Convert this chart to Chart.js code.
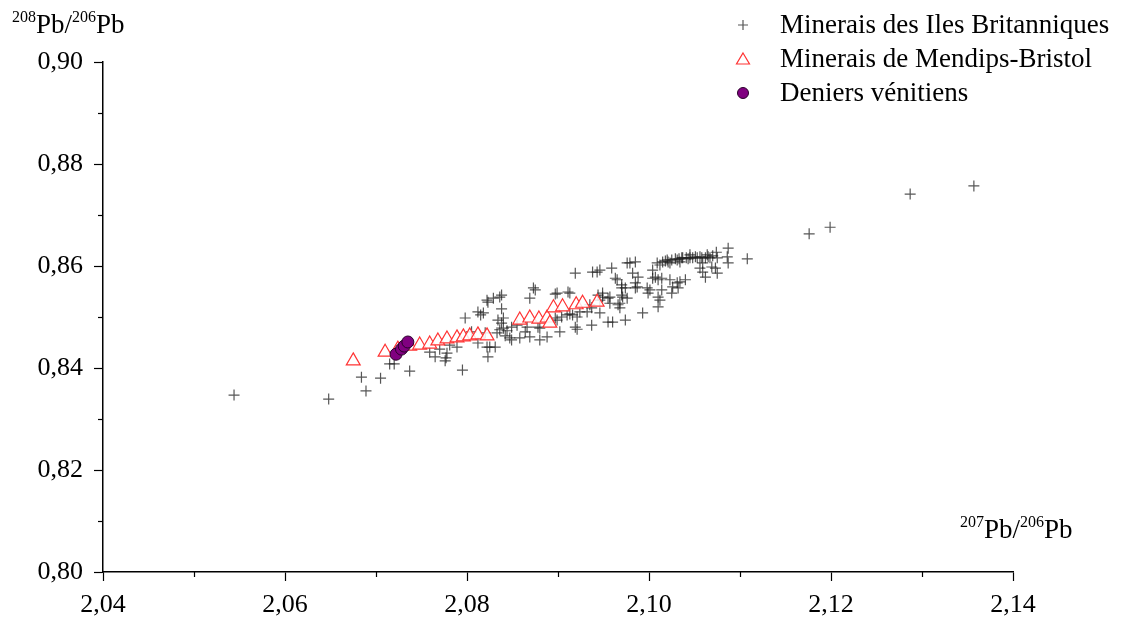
<!DOCTYPE html>
<html>
<head>
<meta charset="utf-8">
<script src="https://cdn.jsdelivr.net/npm/chart.js@4.4.1/dist/chart.umd.min.js"></script>
<style>
  html, body { margin: 0; padding: 0; background: #fff; }
  #wrap { width: 1121px; height: 618px; }
</style>
</head>
<body>
<div id="wrap"><canvas id="pbChart" width="1121" height="618"></canvas></div>
<script>
// Minerais des Iles Britanniques (207Pb/206Pb, 208Pb/206Pb)
const britX = [
  2.0544, 2.0648, 2.0684, 2.0689, 2.0705, 2.0715, 2.0720, 2.0737, 2.0765, 2.0770,
  2.0777, 2.0778, 2.0776, 2.0781, 2.0795, 2.0789, 2.0798, 2.0812, 2.0815, 2.0818,
  2.0812, 2.0820, 2.0823, 2.0822, 2.0919, 2.0938, 2.0946, 2.0979, 2.0982, 2.0959,
  2.0963, 2.0970, 2.0985, 2.0875, 2.0899, 2.0911, 2.0829, 2.0822, 2.0836, 2.0869,
  2.0910, 2.0916, 2.0932, 2.0937, 2.0946, 2.0957, 2.0968, 2.0960, 2.0974, 2.0937,
  2.0919, 2.0899, 2.0880, 2.0864, 2.0869, 2.0858, 2.0847, 2.0836, 2.0838, 2.0840,
  2.0825, 2.0823, 2.0833, 2.0849, 2.0873, 2.0897, 2.0913, 2.0838, 2.0838, 2.0834,
  2.0840, 2.0844, 2.0855, 2.0866, 2.0878, 2.0897, 2.0904, 2.0913, 2.0921, 2.0924,
  2.0935, 2.0944, 2.0949, 2.0955, 2.0921, 2.0902, 2.0888, 2.0880, 2.0849, 2.0831,
  2.0955, 2.0946, 2.0943, 2.0985, 2.0976, 2.0965, 2.0949, 2.0970, 2.0971, 2.0957,
  2.0966, 2.0988, 2.0987, 2.0998, 2.1001, 2.1004, 2.1007, 2.1012, 2.1014, 2.1010,
  2.1010, 2.0993, 2.1021, 2.1023, 2.1026, 2.1025, 2.1032, 2.1034, 2.1040, 2.1031,
  2.1037, 2.1045, 2.1053, 2.1064, 2.1059, 2.1062, 2.1069, 2.1073, 2.1075, 2.1056,
  2.1087, 2.1108, 2.1086, 2.1087, 2.1075, 2.1065, 2.1059, 2.1045, 2.1023, 2.1009,
  2.1034, 2.1036, 2.1004, 2.1010, 2.1031, 2.1014, 2.0999, 2.0985, 2.0974, 2.0970,
  2.0976, 2.1012, 2.0968, 2.1176, 2.1199, 2.1287, 2.1357, 2.1015, 2.1018, 2.1020,
  2.1025, 2.1029, 2.1033, 2.1041, 2.1043, 2.1048, 2.1051, 2.1056, 2.1058, 2.1062,
  2.1067, 2.1070, 2.1074, 2.0759, 2.0805, 2.0842
];
const britY = [
  0.8347, 0.8339, 0.8382, 0.8355, 0.8380, 0.8408, 0.8408, 0.8394, 0.8422, 0.8437,
  0.8420, 0.8429, 0.8414, 0.8445, 0.8396, 0.8441, 0.8498, 0.8510, 0.8504, 0.8508,
  0.8449, 0.8469, 0.8529, 0.8441, 0.8586, 0.8588, 0.8592, 0.8606, 0.8586, 0.8596,
  0.8576, 0.8563, 0.8567, 0.8553, 0.8547, 0.8549, 0.8537, 0.8533, 0.8539, 0.8537,
  0.8504, 0.8504, 0.8510, 0.8518, 0.8533, 0.8539, 0.8527, 0.8490, 0.8494, 0.8484,
  0.8480, 0.8494, 0.8478, 0.8471, 0.8461, 0.8459, 0.8459, 0.8475, 0.8488, 0.8498,
  0.8441, 0.8422, 0.8469, 0.8480, 0.8557, 0.8545, 0.8547, 0.8543, 0.8516, 0.8494,
  0.8478, 0.8473, 0.8484, 0.8480, 0.8480, 0.8498, 0.8500, 0.8506, 0.8500, 0.8510,
  0.8524, 0.8543, 0.8547, 0.8537, 0.8476, 0.8471, 0.8461, 0.8455, 0.8455, 0.8441,
  0.8490, 0.8508, 0.8588, 0.8608, 0.8606, 0.8573, 0.8539, 0.8557, 0.8539, 0.8527,
  0.8524, 0.8578, 0.8559, 0.8557, 0.8553, 0.8592, 0.8578, 0.8602, 0.8576, 0.8539,
  0.8520, 0.8508, 0.8608, 0.8573, 0.8559, 0.8547, 0.8557, 0.8569, 0.8573, 0.8612,
  0.8616, 0.8616, 0.8616, 0.8622, 0.8588, 0.8578, 0.8598, 0.8596, 0.8616, 0.8596,
  0.8635, 0.8614, 0.8618, 0.8606, 0.8586, 0.8618, 0.8606, 0.8622, 0.8606, 0.8606,
  0.8608, 0.8616, 0.8576, 0.8573, 0.8567, 0.8553, 0.8547, 0.8557, 0.8557, 0.8543,
  0.8537, 0.8533, 0.8518, 0.8663, 0.8676, 0.8741, 0.8757, 0.8608, 0.8610, 0.8612,
  0.8612, 0.8614, 0.8614, 0.8616, 0.8614, 0.8616, 0.8618, 0.8618, 0.8616, 0.8616,
  0.8616, 0.8620, 0.8627, 0.8431, 0.8471, 0.8463
];

// Minerais de Mendips-Bristol
const mendipX = [
  2.0675, 2.0710, 2.0724, 2.0737, 2.0748, 2.0759, 2.0768, 2.0778, 2.0789, 2.0796,
  2.0803, 2.0812, 2.0822, 2.0858, 2.0869, 2.0879, 2.0888, 2.0891, 2.0895, 2.0905,
  2.0920, 2.0927, 2.0943
];
const mendipY = [
  0.8414, 0.8431, 0.8437, 0.8443, 0.8445, 0.8447, 0.8453, 0.8457, 0.8459, 0.8461,
  0.8463, 0.8465, 0.8463, 0.8494, 0.8498, 0.8496, 0.8498, 0.8488, 0.8518, 0.8520,
  0.8524, 0.8527, 0.8529
];

// Deniers vénitiens
const denierX = [2.0722, 2.0728, 2.0731, 2.0735];
const denierY = [0.8427, 0.8437, 0.8443, 0.8451];

const seriesNames = ['Minerais des Iles Britanniques', 'Minerais de Mendips-Bristol', 'Deniers vénitiens'];
const xTicks = [2.04, 2.06, 2.08, 2.10, 2.12, 2.14];
const yTicks = [0.80, 0.82, 0.84, 0.86, 0.88, 0.90];

const SERIF = '"Liberation Serif", "Times New Roman", serif';
const pts = (xs, ys) => xs.map((x, i) => ({ x: x, y: ys[i] }));
const fmt = v => v.toFixed(2).replace('.', ',');

// axis titles with superscripts, minor ticks, legend
const decorPlugin = {
  id: 'decor',
  afterDraw(chart) {
    const ctx = chart.ctx;
    const xs = chart.scales.x, ys = chart.scales.y;
    const area = chart.chartArea;
    ctx.save();
    ctx.strokeStyle = '#000';
    ctx.lineWidth = 1.2;
    // minor ticks
    for (let k = 0; k < 5; k++) {
      const px = Math.round(xs.getPixelForValue(2.05 + k * 0.02)) + 0.5;
      ctx.beginPath(); ctx.moveTo(px, area.bottom); ctx.lineTo(px, area.bottom + 5); ctx.stroke();
      const py = Math.round(ys.getPixelForValue(0.81 + k * 0.02)) + 0.5;
      ctx.beginPath(); ctx.moveTo(area.left - 5, py); ctx.lineTo(area.left, py); ctx.stroke();
    }

    // titles
    const writeParts = (parts, x, y) => {
      ctx.fillStyle = '#000';
      ctx.textBaseline = 'alphabetic';
      ctx.textAlign = 'left';
      parts.forEach(p => {
        ctx.font = (p[1] ? '16px ' : '27px ') + SERIF;
        ctx.fillText(p[0], x, p[1] ? y - 11 : y);
        x += ctx.measureText(p[0]).width;
      });
    };
    writeParts([['208', true], ['Pb/', false], ['206', true], ['Pb', false]], 12, 33);
    writeParts([['207', true], ['Pb/', false], ['206', true], ['Pb', false]], 960, 538);

    // legend
    const rows = [25, 59, 93];
    const mx = 743;
    chart.data.datasets.forEach((ds, i) => {
      const y = rows[i];
      ctx.fillStyle = ds.backgroundColor;
      ctx.strokeStyle = ds.borderColor;
      ctx.lineWidth = ds.borderWidth;
      ctx.beginPath();
      if (ds.pointStyle === 'cross') {
        ctx.moveTo(mx - 5, y); ctx.lineTo(mx + 5, y);
        ctx.moveTo(mx, y - 5); ctx.lineTo(mx, y + 5);
        ctx.stroke();
      } else if (ds.pointStyle === 'triangle') {
        ctx.moveTo(mx, y - 6);
        ctx.lineTo(mx + 6.5, y + 5);
        ctx.lineTo(mx - 6.5, y + 5);
        ctx.closePath(); ctx.fill(); ctx.stroke();
      } else {
        ctx.arc(mx, y, 5.5, 0, Math.PI * 2);
        ctx.fill(); ctx.stroke();
      }
      ctx.fillStyle = '#000';
      ctx.font = '27px ' + SERIF;
      ctx.textBaseline = 'middle';
      ctx.fillText(seriesNames[i], 780, y + 1);
    });
    ctx.restore();
  }
};

const ctx = document.getElementById('pbChart').getContext('2d');
const chart = new Chart(ctx, {
  type: 'scatter',
  data: {
    datasets: [
      {
        label: seriesNames[0],
        data: pts(britX, britY),
        pointStyle: 'cross',
        pointRadius: 5.5,
        borderColor: 'rgba(30,30,30,0.75)',
        backgroundColor: 'rgba(30,30,30,0.75)',
        borderWidth: 1.2,
        order: 3
      },
      {
        label: seriesNames[1],
        data: pts(mendipX, mendipY),
        pointStyle: 'triangle',
        pointRadius: 8,
        borderColor: '#ff3333',
        backgroundColor: 'rgba(255,255,255,0.85)',
        borderWidth: 1.2,
        order: 2
      },
      {
        label: seriesNames[2],
        data: pts(denierX, denierY),
        pointStyle: 'circle',
        pointRadius: 6,
        borderColor: '#2a002a',
        backgroundColor: '#800080',
        borderWidth: 1,
        order: 1
      }
    ]
  },
  options: {
    responsive: false,
    animation: false,
    layout: { padding: { left: 0, right: 108, top: 62, bottom: 0 } },
    plugins: {
      legend: { display: false },
      tooltip: { enabled: false }
    },
    scales: {
      x: {
        type: 'linear',
        min: 2.04,
        max: 2.14,
        afterBuildTicks: s => { s.ticks = xTicks.map(v => ({ value: v })); },
        afterFit: s => { s.height = 46; },
        grid: { display: true, drawOnChartArea: false, drawTicks: true, tickLength: 9, tickColor: '#000', tickWidth: 1.2 },
        border: { display: true, color: '#000', width: 1.5 },
        ticks: { color: '#000', font: { family: SERIF, size: 26 }, padding: 9, callback: v => fmt(v) }
      },
      y: {
        type: 'linear',
        min: 0.80,
        max: 0.90,
        afterBuildTicks: s => { s.ticks = yTicks.map(v => ({ value: v })); },
        afterFit: s => { s.width = 103; },
        grid: { display: true, drawOnChartArea: false, drawTicks: true, tickLength: 9, tickColor: '#000', tickWidth: 1.2 },
        border: { display: true, color: '#000', width: 1.5 },
        ticks: { color: '#000', font: { family: SERIF, size: 26 }, padding: 11, callback: v => fmt(v) }
      }
    }
  },
  plugins: [decorPlugin]
});
</script>
</body>
</html>
